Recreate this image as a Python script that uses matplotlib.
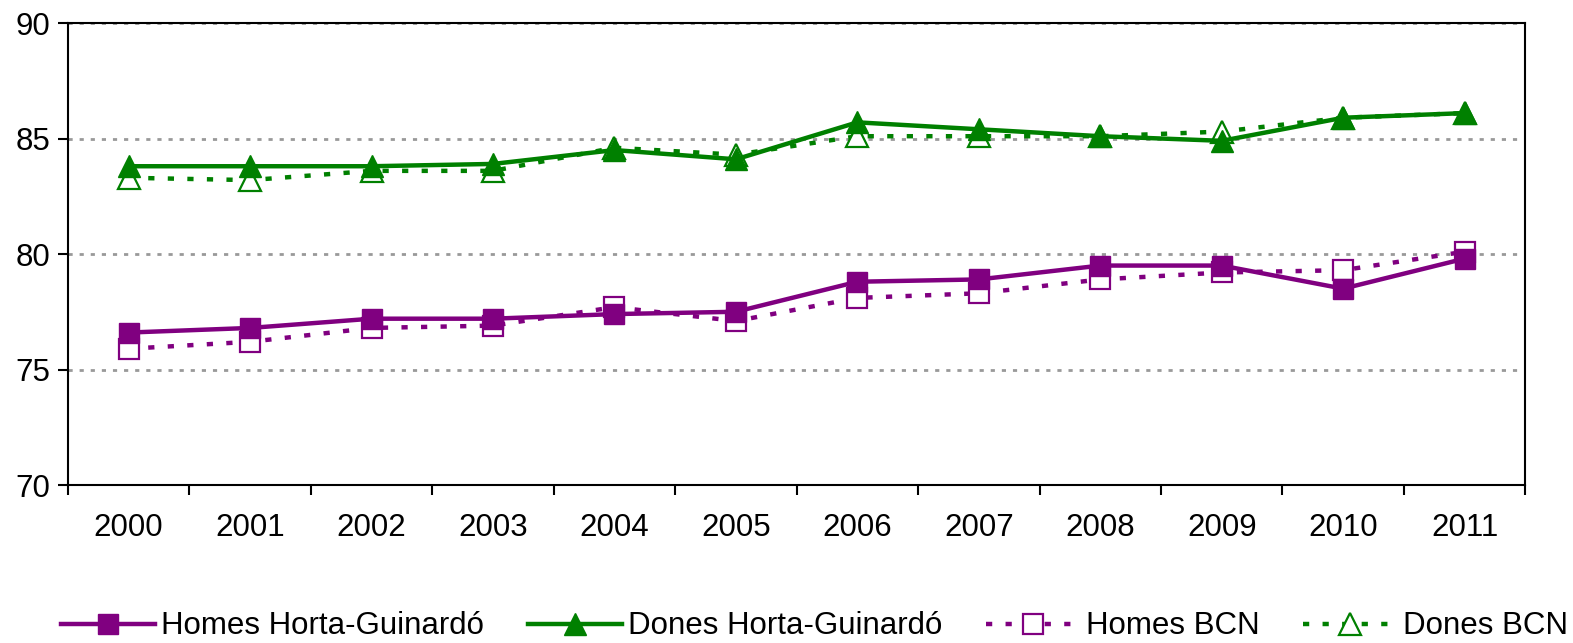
import numpy as np
import matplotlib.pyplot as plt

plt.rcParams['font.family'] = ['Liberation Sans', 'DejaVu Sans']

# Years on the x axis
years = ["2000", "2001", "2002", "2003", "2004", "2005",
         "2006", "2007", "2008", "2009", "2010", "2011"]

# Life expectancy values
homes_hg = [76.6, 76.8, 77.2, 77.2, 77.4, 77.5, 78.8, 78.9, 79.5, 79.5, 78.5, 79.8]
dones_hg = [83.8, 83.8, 83.8, 83.9, 84.5, 84.1, 85.7, 85.4, 85.1, 84.9, 85.9, 86.1]
homes_bcn = [75.9, 76.2, 76.8, 76.9, 77.7, 77.1, 78.1, 78.3, 78.9, 79.2, 79.3, 80.1]
dones_bcn = [83.3, 83.2, 83.6, 83.6, 84.6, 84.3, 85.1, 85.1, 85.1, 85.3, 85.9, 86.1]

purple = "#800080"
green = "#008000"

fig = plt.figure(figsize=(15.73, 6.43), dpi=100)
ax = fig.add_axes([0.0432, 0.2457, 0.9265, 0.7185])

x = np.arange(len(years))
dash = (0, (1.4, 3.0))

# BCN (dashed, hollow markers) drawn first, then district on top
ax.plot(x, homes_bcn, color=purple, lw=3.2, linestyle=dash, dash_capstyle="butt",
        marker="s", markersize=15, markerfacecolor="white", markeredgecolor=purple,
        markeredgewidth=1.6, label="Homes BCN", zorder=3)
ax.plot(x, dones_bcn, color=green, lw=3.2, linestyle=dash, dash_capstyle="butt",
        marker="^", markersize=16, markerfacecolor="white", markeredgecolor=green,
        markeredgewidth=1.6, label="Dones BCN", zorder=3)
ax.plot(x, homes_hg, color=purple, lw=3.2, marker="s", markersize=15,
        label="Homes Horta-Guinardó", zorder=4)
ax.plot(x, dones_hg, color=green, lw=3.2, marker="^", markersize=16,
        label="Dones Horta-Guinardó", zorder=4)

ax.set_xlim(-0.5, len(years) - 0.5)
ax.set_ylim(70, 90)
ax.set_yticks([70, 75, 80, 85, 90])

# ticks at category boundaries, labels at centres
ax.set_xticks(np.arange(-0.5, len(years)), minor=False)
ax.set_xticklabels([])
ax.set_xticks(x, minor=True)
ax.set_xticklabels(years, minor=True)
ax.tick_params(axis="x", which="major", direction="out", length=7, width=1.5)
ax.tick_params(axis="x", which="minor", length=0, pad=20, labelsize=22.5)
ax.tick_params(axis="y", direction="out", length=7, width=1.5, labelsize=22.5, pad=6)

ax.yaxis.grid(True, color="#999999", linestyle=(0, (1.5, 2.5)), lw=2)
ax.set_axisbelow(True)
for s in ax.spines.values():
    s.set_linewidth(1.5)

handles, labels = ax.get_legend_handles_labels()
order = [2, 3, 0, 1]
fig.legend([handles[i] for i in order], [labels[i] for i in order],
           loc="lower center", bbox_to_anchor=(0.518, 0.0), ncol=4, frameon=False,
           borderpad=0.05, borderaxespad=0.0,
           fontsize=22.5, handlelength=3.0, columnspacing=1.4, handletextpad=0.2)

fig.savefig("out.png", dpi=100)
